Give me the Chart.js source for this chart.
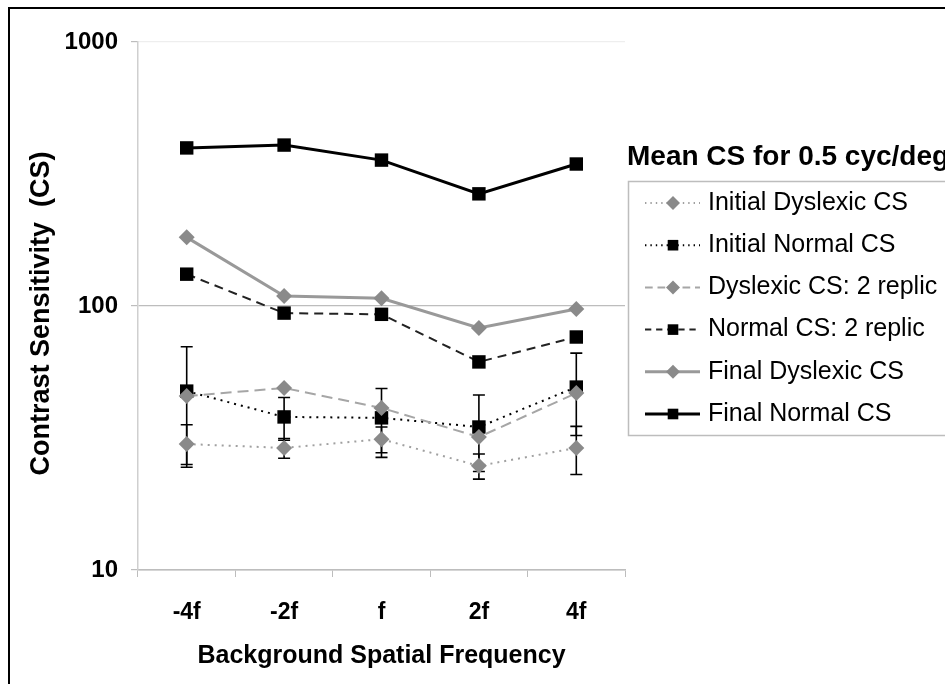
<!DOCTYPE html>
<html>
<head>
<meta charset="utf-8">
<script src="https://cdn.jsdelivr.net/npm/chart.js@4/dist/chart.umd.min.js"></script>
<style>
  html, body { margin: 0; padding: 0; background: #fff; }
  #wrap { width: 945px; height: 684px; }
</style>
</head>
<body>
<div id="wrap"><canvas id="csChart" width="945" height="684"></canvas></div>
<script>
// categories and series values
const categories = ['-4f', '-2f', 'f', '2f', '4f'];
const yTicks = [10, 100, 1000];

const initialDyslexic = [30.0, 29.0, 31.3, 24.8, 29.0];
const initialNormal = [47.6, 38.0, 37.7, 34.8, 49.3];
const dyslexicReplic = [45.6, 48.9, 41.1, 31.9, 46.8];
const normalReplic = [132, 94, 93, 61.4, 76.3];
const finalDyslexic = [182, 109, 107, 82.6, 97.4];
const finalNormal = [397, 407, 357, 266, 345];

// error bars (+/-) on the initial measurements
const initialDyslexicErr = [5.5, 2.5, 3.5, 2.7, 6];
const initialNormalErr = [22.5, 7, 11, 11.2, 17];

const legendTitle = 'Mean CS for 0.5 cyc/deg';
const FONT = "'Liberation Sans', Arial, sans-serif";

const GRAY = '#8a8a8a';

function series(label, data, color, dash, width, style, radius, err) {
    return {
        label: label,
        data: data,
        borderColor: color,
        backgroundColor: color,
        borderDash: dash,
        borderWidth: width,
        pointStyle: style,
        pointRadius: radius,
        pointHoverRadius: radius,
        pointBorderWidth: 0,
        pointBackgroundColor: style === 'rect' ? '#000' : GRAY,
        tension: 0,
        clip: false,
        errors: err
    };
}

const datasets = [
    series('Dyslexic CS: 2 replic', dyslexicReplic, '#a6a6a6', [11, 6], 2, 'rectRot', 8),
    series('Initial Dyslexic CS', initialDyslexic, '#a0a0a0', [2, 5], 2, 'rectRot', 8, initialDyslexicErr),
    series('Initial Normal CS', initialNormal, '#000', [2, 5], 2, 'rect', 9.5, initialNormalErr),
    series('Normal CS: 2 replic', normalReplic, '#222', [9, 6], 2, 'rect', 9.5),
    series('Final Dyslexic CS', finalDyslexic, '#999', [], 3, 'rectRot', 8),
    series('Final Normal CS', finalNormal, '#000', [], 3, 'rect', 9.5)
];

const legendOrder = ['Initial Dyslexic CS', 'Initial Normal CS', 'Dyslexic CS: 2 replic',
    'Normal CS: 2 replic', 'Final Dyslexic CS', 'Final Normal CS'];

// vertical error bars with caps, drawn under the markers
const errorBars = {
    id: 'errorBars',
    beforeDatasetsDraw(chart) {
        const ctx = chart.ctx;
        const x = chart.scales.x, y = chart.scales.y;
        ctx.save();
        ctx.strokeStyle = '#000';
        ctx.lineWidth = 1.6;
        chart.data.datasets.forEach(ds => {
            if (!ds.errors) return;
            ds.data.forEach((v, i) => {
                const px = x.getPixelForValue(i);
                const top = y.getPixelForValue(v + ds.errors[i]);
                const bot = y.getPixelForValue(v - ds.errors[i]);
                ctx.beginPath();
                ctx.moveTo(px, top); ctx.lineTo(px, bot);
                ctx.moveTo(px - 6, top); ctx.lineTo(px + 6, top);
                ctx.moveTo(px - 6, bot); ctx.lineTo(px + 6, bot);
                ctx.stroke();
            });
        });
        ctx.restore();
    }
};

// Excel-like legend box + outer frame
const sideLegend = {
    id: 'sideLegend',
    afterDraw(chart) {
        const ctx = chart.ctx;
        ctx.save();
        ctx.fillStyle = '#000';
        ctx.font = 'bold 28px ' + FONT;
        ctx.textBaseline = 'middle';
        ctx.fillText(legendTitle, 627, 157);

        ctx.strokeStyle = '#bdbdbd';
        ctx.lineWidth = 1.5;
        ctx.strokeRect(628.5, 181.5, 340, 254);

        ctx.font = '25px ' + FONT;
        legendOrder.forEach((name, k) => {
            const ds = chart.data.datasets.find(d => d.label === name);
            const yy = 203 + k * 42.2;
            ctx.save();
            ctx.strokeStyle = ds.borderColor;
            ctx.lineWidth = ds.borderWidth;
            ctx.setLineDash(ds.borderDash.length ? [ds.borderDash[0] * 0.7, ds.borderDash[1] * 0.8] : []);
            ctx.beginPath();
            ctx.moveTo(645, yy); ctx.lineTo(700, yy);
            ctx.stroke();
            ctx.setLineDash([]);
            ctx.fillStyle = ds.pointBackgroundColor;
            ctx.strokeStyle = ds.pointBackgroundColor;
            Chart.helpers.drawPoint(ctx, {
                pointStyle: ds.pointStyle,
                radius: ds.pointStyle === 'rect' ? 7.5 : 7,
                borderWidth: 0,
                rotation: 0
            }, 673, yy);
            ctx.restore();
            ctx.fillStyle = '#000';
            ctx.fillText(name, 708, yy);
        });

        ctx.strokeStyle = '#000';
        ctx.lineWidth = 2;
        ctx.strokeRect(9, 8, 1000, 1000);
        ctx.restore();
    }
};

new Chart(document.getElementById('csChart'), {
    type: 'line',
    data: { labels: categories, datasets: datasets },
    plugins: [errorBars, sideLegend],
    options: {
        responsive: false,
        animation: false,
        layout: { padding: { left: 0, right: 320, top: 42, bottom: 0 } },
        plugins: {
            legend: { display: false },
            tooltip: { enabled: false }
        },
        scales: {
            x: {
                type: 'category',
                offset: true,
                afterFit: s => { s.height = 114; },
                grid: {
                    offset: true,
                    drawOnChartArea: false,
                    tickLength: 7,
                    color: '#bdbdbd'
                },
                border: { color: '#bdbdbd', width: 1.5 },
                ticks: {
                    color: '#000',
                    padding: 22,
                    font: { family: FONT, size: 23, weight: 'bold' }
                },
                title: {
                    display: true,
                    text: 'Background Spatial Frequency',
                    color: '#000',
                    padding: { top: 0, bottom: 13 },
                    font: { family: FONT, size: 25, weight: 'bold' }
                }
            },
            y: {
                type: 'logarithmic',
                min: 10,
                max: 1000,
                afterFit: s => { s.width = 138; },
                afterBuildTicks: s => { s.ticks = yTicks.map(v => ({ value: v })); },
                grid: {
                    tickLength: 7,
                    tickColor: '#bdbdbd',
                    color: c => (c.tick && c.tick.value === 1000) ? '#eeeeee' : '#bdbdbd',
                    lineWidth: 1.2
                },
                border: { color: '#cfcfcf', width: 1.5 },
                ticks: {
                    color: '#000',
                    padding: 13,
                    callback: v => String(v),
                    font: { family: FONT, size: 24, weight: 'bold' }
                },
                title: {
                    display: true,
                    text: 'Contrast Sensitivity  (CS)  ',
                    color: '#000',
                    padding: { top: 25, bottom: 0 },
                    font: { family: FONT, size: 27, weight: 'bold' }
                }
            }
        }
    }
});
</script>
</body>
</html>
